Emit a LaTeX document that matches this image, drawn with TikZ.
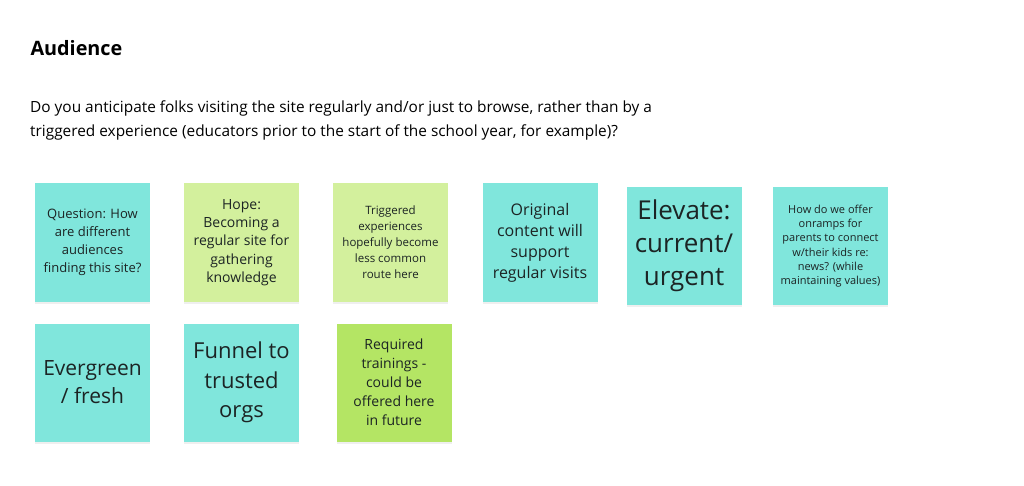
\documentclass[tikz,border=0pt]{standalone}
\usepackage{fontspec}
\setmainfont{Open Sans}
\usetikzlibrary{shadows}

\definecolor{stickyteal}{HTML}{80E6DC}
\definecolor{stickylime}{HTML}{D3F09D}
\definecolor{stickygreen}{HTML}{B4E564}
\definecolor{inkdark}{HTML}{1C2424}

\tikzset{
  sticky/.style={rectangle, minimum width=115pt, minimum height=118pt, inner sep=0pt,
    align=center, text=inkdark,
    drop shadow={opacity=0.12, shadow xshift=0pt, shadow yshift=-2pt}},
  tealnote/.style={sticky, fill=stickyteal},
  limenote/.style={sticky, fill=stickylime},
  greennote/.style={sticky, fill=stickygreen}
}

\begin{document}
\begin{tikzpicture}[x=1pt,y=-1pt]
        \useasboundingbox[fill=white] (0,0) rectangle (1024,486);

        \node[anchor=base west, text=black, font=\fontsize{19.8}{24}\selectfont\bfseries] (title) at (27,55.5) {Audience};
        \node[anchor=north west, align=left, text=black, inner sep=0pt, font=\fontsize{15.4}{24}\selectfont] (question) at (30,101)
          {Do you anticipate folks visiting the site regularly and/or just to browse, rather than by a\\
           triggered experience (educators prior to the start of the school year, for example)?};

        \node[tealnote, font=\fontsize{13}{18}\selectfont] (howfind) at (92.5,242.5) {Question: How\\are different\\audiences\\finding this site?};
        \node[limenote, font=\fontsize{14}{18.3}\selectfont] (hope) at (241.5,242.5) {Hope:\\Becoming a\\regular site for\\gathering\\knowledge};
        \node[limenote, font=\fontsize{11.5}{16}\selectfont] (triggered) at (390.5,242.5) {Triggered\\experiences\\hopefully become\\less common\\route here};
        \node[tealnote, font=\fontsize{16}{21}\selectfont] (original) at (540,242.5) {Original\\content will\\support\\regular visits};
        \node[tealnote, font=\fontsize{26}{33}\selectfont] (elevate) at (684,246) {Elevate:\\current/\\urgent};
        \node[tealnote, font=\fontsize{11}{14.3}\selectfont] (onramps) at (830.5,246) {How do we offer\\onramps for\\parents to connect\\w/their kids re:\\news? (while\\maintaining values)};

        \node[tealnote, font=\fontsize{21}{28}\selectfont] (evergreen) at (92.5,382.5) {Evergreen\\/ fresh};
        \node[tealnote, font=\fontsize{22}{29.5}\selectfont] (funnel) at (241.5,382.5) {Funnel to\\trusted\\orgs};
        \node[greennote, font=\fontsize{14}{19}\selectfont] (trainings) at (394,382.5) {Required\\trainings -\\could be\\offered here\\in future};

\end{tikzpicture}
\end{document}
